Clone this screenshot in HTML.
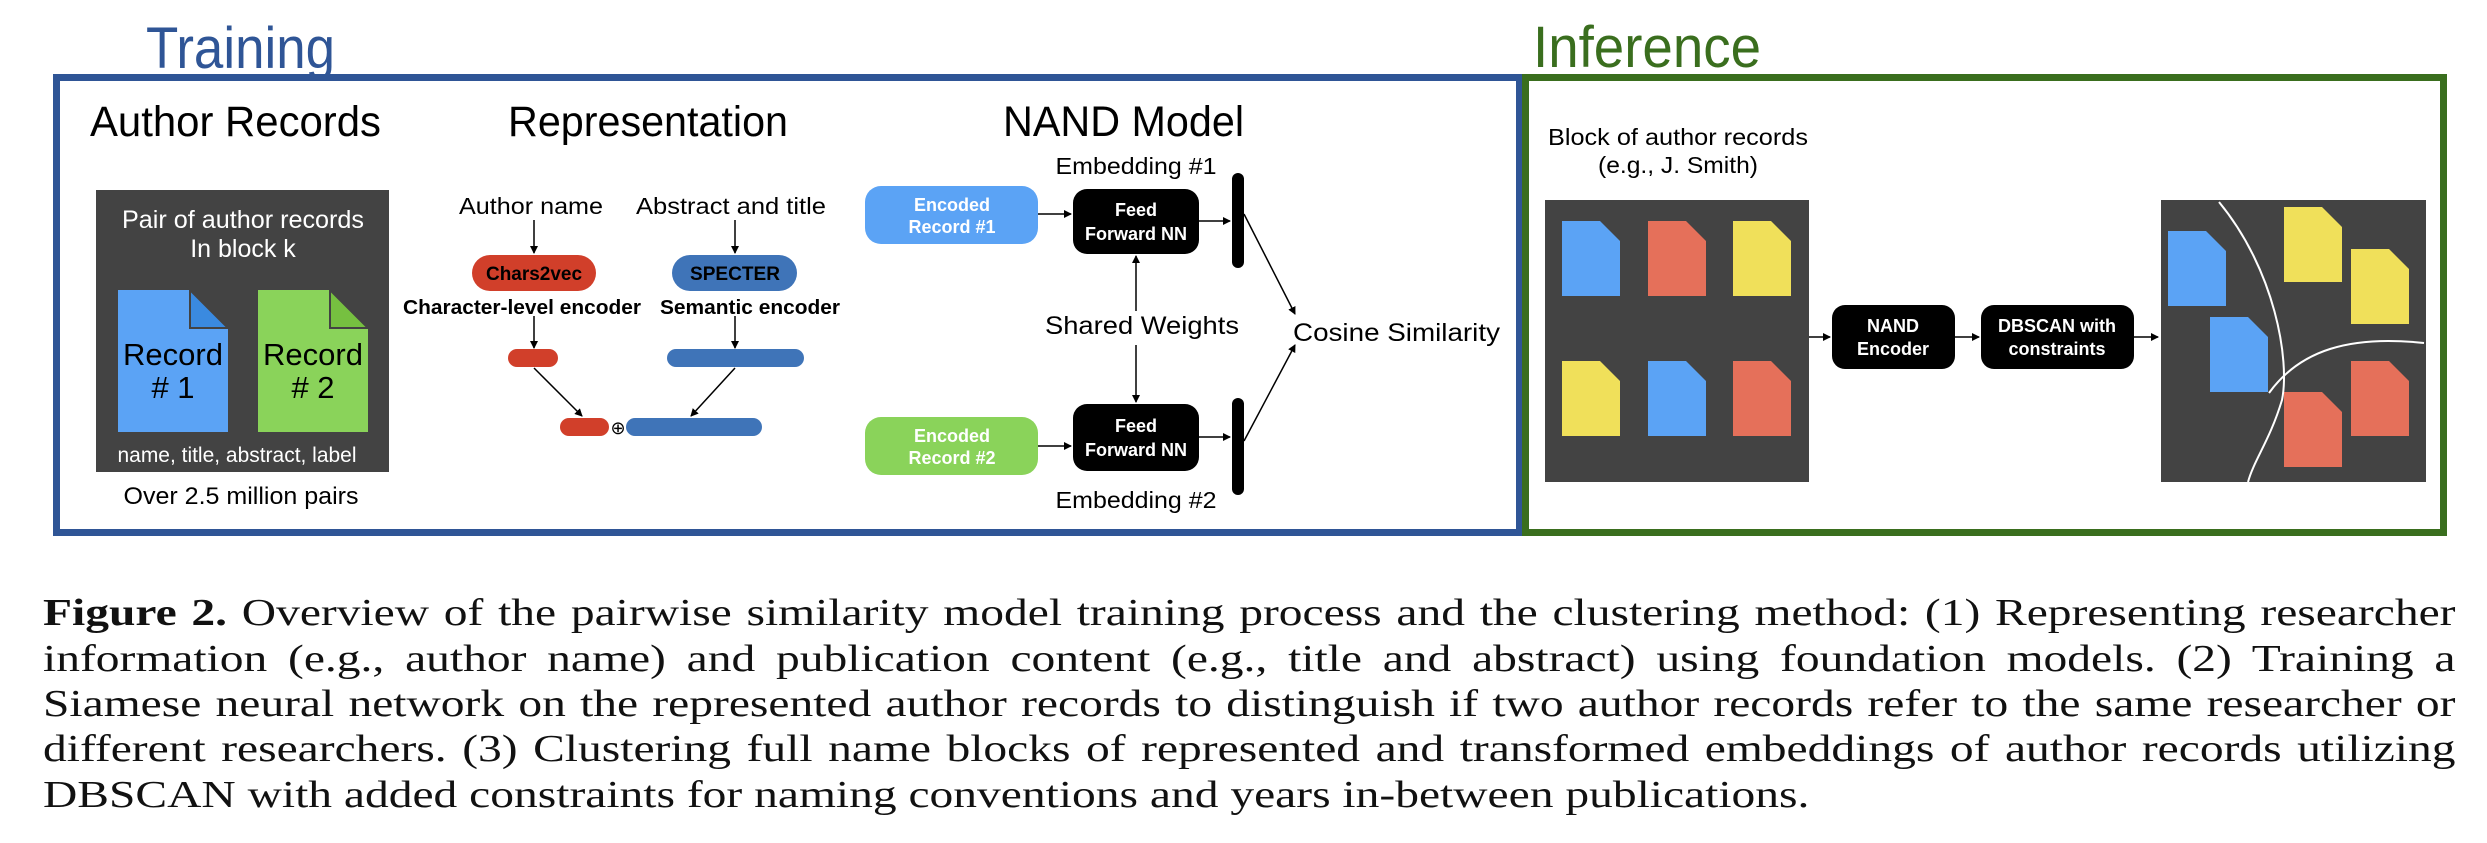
<!DOCTYPE html>
<html><head><meta charset="utf-8"><style>
html,body{margin:0;padding:0;background:#fff;}
body{width:2487px;height:843px;position:relative;overflow:hidden;}
svg{position:absolute;left:0;top:0;}
.cap{position:absolute;left:43px;width:1930px;transform:scaleX(1.25);transform-origin:0 0;font-family:"Liberation Serif",serif;font-size:38px;color:#111;line-height:45px;text-align:justify;text-align-last:justify;white-space:nowrap;}
.cap.l{text-align-last:left;}
</style></head><body>
<svg width="2487" height="560" viewBox="0 0 2487 560" font-family="Liberation Sans, Arial, sans-serif">
<defs>
<marker id="a" markerWidth="8" markerHeight="8" refX="7" refY="4" orient="auto" markerUnits="userSpaceOnUse"><path d="M0,0 L8,4 L0,8 z" fill="#000"/></marker>
<g id="doc"><path d="M0,0 H38 L58,20 V75 H0 Z"/></g>
</defs>
<rect x="56.5" y="77.5" width="1463" height="455" fill="none" stroke="#2f5596" stroke-width="7"/>
<rect x="1525.5" y="77.5" width="918" height="455" fill="none" stroke="#3a6e1e" stroke-width="7"/>
<text x="146" y="68" font-size="58" fill="#2f5596" textLength="189" lengthAdjust="spacingAndGlyphs">Training</text>
<text x="1533" y="67" font-size="58" fill="#3a6e1e" textLength="228" lengthAdjust="spacingAndGlyphs">Inference</text>
<text x="90" y="136" font-size="43" textLength="291" lengthAdjust="spacingAndGlyphs">Author Records</text>
<text x="508" y="136" font-size="43" textLength="280" lengthAdjust="spacingAndGlyphs">Representation</text>
<text x="1003" y="136" font-size="43" textLength="241" lengthAdjust="spacingAndGlyphs">NAND Model</text>
<rect x="96" y="190" width="293" height="282" fill="#434343"/>
<text x="243" y="228" font-size="25" fill="#fff" text-anchor="middle" textLength="242" lengthAdjust="spacingAndGlyphs">Pair of author records</text>
<text x="243" y="257" font-size="25" fill="#fff" text-anchor="middle">In block k</text>
<path d="M118,290 H190 L228,328 V432 H118 Z" fill="#5ba3f5"/>
<path d="M190,290 V328 H228 Z" fill="#3a8ae0" stroke="#434343" stroke-width="2"/>
<path d="M258,290 H330 L368,328 V432 H258 Z" fill="#8ad35a"/>
<path d="M330,290 V328 H368 Z" fill="#76c040" stroke="#434343" stroke-width="2"/>
<text x="173" y="365" font-size="31" text-anchor="middle">Record</text>
<text x="173" y="398" font-size="31" text-anchor="middle"># 1</text>
<text x="313" y="365" font-size="31" text-anchor="middle">Record</text>
<text x="313" y="398" font-size="31" text-anchor="middle"># 2</text>
<text x="237" y="462" font-size="21" fill="#fff" text-anchor="middle" textLength="239" lengthAdjust="spacingAndGlyphs">name, title, abstract, label</text>
<text x="241" y="504" font-size="24" text-anchor="middle" textLength="235" lengthAdjust="spacingAndGlyphs">Over 2.5 million pairs</text>
<text x="531" y="214" font-size="23" text-anchor="middle" textLength="144" lengthAdjust="spacingAndGlyphs">Author name</text>
<text x="731" y="214" font-size="23" text-anchor="middle" textLength="190" lengthAdjust="spacingAndGlyphs">Abstract and title</text>
<g stroke="#000" stroke-width="1.5" marker-end="url(#a)">
<line x1="534" y1="220" x2="534" y2="253"/>
<line x1="735" y1="220" x2="735" y2="253"/>
<line x1="534" y1="316" x2="534" y2="348"/>
<line x1="735" y1="316" x2="735" y2="348"/>
<line x1="534" y1="368" x2="582" y2="416"/>
<line x1="735" y1="368" x2="691" y2="416"/>
</g>
<rect x="472" y="255" width="124" height="36" rx="18" fill="#d13f2a"/>
<rect x="672" y="255" width="125" height="36" rx="18" fill="#3f74b8"/>
<text x="534" y="280" font-size="19" font-weight="bold" text-anchor="middle" textLength="96" lengthAdjust="spacingAndGlyphs">Chars2vec</text>
<text x="735" y="280" font-size="19" font-weight="bold" text-anchor="middle" textLength="90" lengthAdjust="spacingAndGlyphs">SPECTER</text>
<text x="522" y="314" font-size="20" font-weight="bold" text-anchor="middle" textLength="238" lengthAdjust="spacingAndGlyphs">Character-level encoder</text>
<text x="750" y="314" font-size="20" font-weight="bold" text-anchor="middle" textLength="180" lengthAdjust="spacingAndGlyphs">Semantic encoder</text>
<rect x="508" y="349" width="50" height="18" rx="9" fill="#d13f2a"/>
<rect x="667" y="349" width="137" height="18" rx="9" fill="#3f74b8"/>
<rect x="560" y="418" width="49" height="18" rx="9" fill="#d13f2a"/>
<rect x="626" y="418" width="136" height="18" rx="9" fill="#3f74b8"/>
<text x="618" y="434" font-size="18" text-anchor="middle">⊕</text>
<text x="1136" y="174" font-size="23" text-anchor="middle" textLength="161" lengthAdjust="spacingAndGlyphs">Embedding #1</text>
<text x="1136" y="508" font-size="23" text-anchor="middle" textLength="161" lengthAdjust="spacingAndGlyphs">Embedding #2</text>
<rect x="865" y="186" width="173" height="58" rx="16" fill="#5ba3f5"/>
<rect x="865" y="417" width="173" height="58" rx="16" fill="#8ad35a"/>
<g fill="#fff" font-size="18" font-weight="bold" text-anchor="middle">
<text x="952" y="211">Encoded</text><text x="952" y="233">Record #1</text>
<text x="952" y="442">Encoded</text><text x="952" y="464">Record #2</text>
</g>
<rect x="1073" y="189" width="126" height="65" rx="14" fill="#000"/>
<rect x="1073" y="404" width="126" height="67" rx="14" fill="#000"/>
<g fill="#fff" font-size="18" font-weight="bold" text-anchor="middle">
<text x="1136" y="216">Feed</text><text x="1136" y="240">Forward NN</text>
<text x="1136" y="432">Feed</text><text x="1136" y="456">Forward NN</text>
</g>
<rect x="1232" y="173" width="12" height="95" rx="6" fill="#000"/>
<rect x="1232" y="398" width="12" height="97" rx="6" fill="#000"/>
<g stroke="#000" stroke-width="1.5" marker-end="url(#a)">
<line x1="1038" y1="214" x2="1071" y2="214"/>
<line x1="1038" y1="446" x2="1071" y2="446"/>
<line x1="1199" y1="221" x2="1230" y2="221"/>
<line x1="1199" y1="437" x2="1230" y2="437"/>
<line x1="1136" y1="311" x2="1136" y2="256"/>
<line x1="1136" y1="345" x2="1136" y2="402"/>
<line x1="1244" y1="214" x2="1295" y2="314"/>
<line x1="1244" y1="441" x2="1295" y2="345"/>
</g>
<text x="1142" y="334" font-size="25" text-anchor="middle" textLength="194" lengthAdjust="spacingAndGlyphs">Shared Weights</text>
<text x="1293" y="341" font-size="25" textLength="207" lengthAdjust="spacingAndGlyphs">Cosine Similarity</text>
<text x="1678" y="145" font-size="23" text-anchor="middle" textLength="260" lengthAdjust="spacingAndGlyphs">Block of author records</text>
<text x="1678" y="173" font-size="23" text-anchor="middle" textLength="160" lengthAdjust="spacingAndGlyphs">(e.g., J. Smith)</text>
<rect x="1545" y="200" width="264" height="282" fill="#434343"/>
<rect x="2161" y="200" width="265" height="282" fill="#434343"/>
<g>
<use href="#doc" x="1562" y="221" fill="#5ba3f5"/>
<use href="#doc" x="1648" y="221" fill="#e5705a"/>
<use href="#doc" x="1733" y="221" fill="#f0e05a"/>
<use href="#doc" x="1562" y="361" fill="#f0e05a"/>
<use href="#doc" x="1648" y="361" fill="#5ba3f5"/>
<use href="#doc" x="1733" y="361" fill="#e5705a"/>
<use href="#doc" x="2168" y="231" fill="#5ba3f5"/>
<use href="#doc" x="2284" y="207" fill="#f0e05a"/>
<use href="#doc" x="2351" y="249" fill="#f0e05a"/>
<use href="#doc" x="2210" y="317" fill="#5ba3f5"/>
<use href="#doc" x="2284" y="392" fill="#e5705a"/>
<use href="#doc" x="2351" y="361" fill="#e5705a"/>
</g>
<path d="M2219,202 C2275,270 2290,360 2282,400 C2270,440 2254,460 2248,482" fill="none" stroke="#fff" stroke-width="2"/>
<path d="M2269,393 C2300,350 2350,335 2424,343" fill="none" stroke="#fff" stroke-width="2"/>
<rect x="1832" y="305" width="123" height="64" rx="13" fill="#000"/>
<rect x="1981" y="305" width="153" height="64" rx="13" fill="#000"/>
<g fill="#fff" font-size="18" font-weight="bold" text-anchor="middle">
<text x="1893" y="332">NAND</text><text x="1893" y="355">Encoder</text>
<text x="2057" y="332">DBSCAN with</text><text x="2057" y="355">constraints</text>
</g>
<g stroke="#000" stroke-width="1.5" marker-end="url(#a)">
<line x1="1809" y1="337" x2="1830" y2="337"/>
<line x1="1955" y1="337" x2="1979" y2="337"/>
<line x1="2134" y1="337" x2="2158" y2="337"/>
</g>
</svg>
<div class="cap" style="top:591px"><b>Figure 2.</b> Overview of the pairwise similarity model training process and the clustering method: (1) Representing researcher</div>
<div class="cap" style="top:637px">information (e.g., author name) and publication content (e.g., title and abstract) using foundation models. (2) Training a</div>
<div class="cap" style="top:682px">Siamese neural network on the represented author records to distinguish if two author records refer to the same researcher or</div>
<div class="cap" style="top:727px">different researchers. (3) Clustering full name blocks of represented and transformed embeddings of author records utilizing</div>
<div class="cap l" style="top:773px">DBSCAN with added constraints for naming conventions and years in-between publications.</div>
</body></html>
